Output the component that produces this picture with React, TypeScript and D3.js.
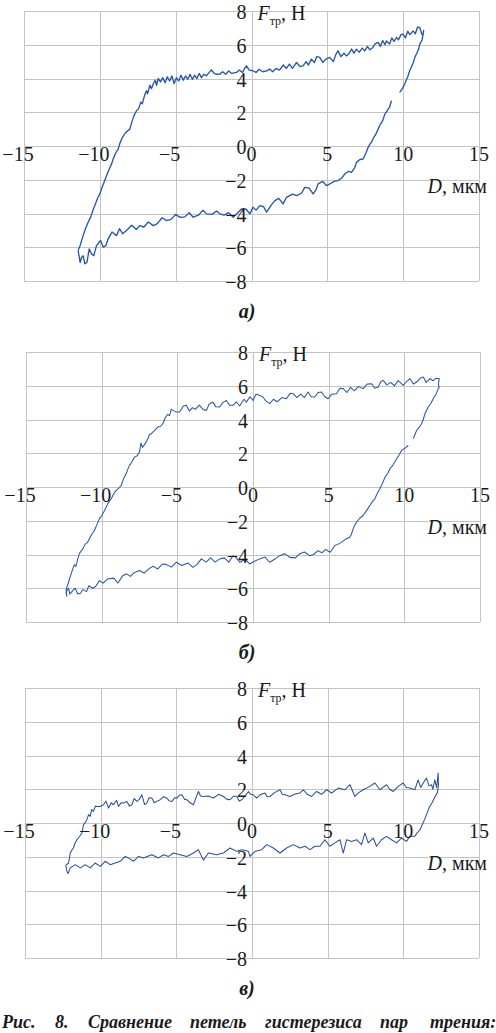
import React from 'react'
import * as d3 from 'd3'

type Pt = [number, number] | null

// D, мкм / F тр, Н — loops, path order; null = gap in the trace
const loopA: Pt[] = [
  [-11.43, -6.2], [-11.3, -5.9], [-11.1, -5.31], [-10.95, -4.9], [-10.77, -4.52], [-10.6, -4.2], [-10.45, -3.8],
  [-10.33, -3.53], [-10.15, -3.1], [-9.98, -2.8], [-9.89, -2.54], [-9.7, -2.1], [-9.56, -1.76], [-9.35, -1.3],
  [-9.2, -1.0], [-9.12, -0.77], [-8.95, -0.4], [-8.79, -0.18], [-8.7, 0.1], [-8.55, 0.45], [-8.3, 0.8], [-8.02, 1.0],
  [-7.9, 1.4], [-7.75, 1.8], [-7.58, 2.09], [-7.45, 2.2], [-7.3, 2.6], [-7.2, 2.5], [-7.05, 3.0], [-6.92, 3.27],
  [-6.85, 3.1], [-6.7, 3.6], [-6.6, 3.4], [-6.48, 3.67], [-6.35, 3.9], [-6.26, 3.6], [-6.15, 4.0], [-6.0, 3.8],
  [-5.85, 4.05], [-5.7, 3.75], [-5.55, 4.1], [-5.4, 3.85], [-5.25, 4.15], [-5.1, 3.7], [-4.95, 4.05], [-4.8, 3.85],
  [-4.65, 4.2], [-4.5, 3.9], [-4.35, 4.15], [-4.2, 3.95], [-4.05, 4.25], [-3.9, 3.95], [-3.75, 4.2], [-3.6, 4.0],
  [-3.45, 4.3], [-3.3, 4.05], [-3.15, 4.25], [-2.97, 4.16], [-2.8, 4.35], [-2.64, 4.5], [-2.45, 4.3], [-2.3, 4.25],
  [-2.09, 4.26], [-1.9, 4.4], [-1.7, 4.25], [-1.5, 4.45], [-1.3, 4.3], [-0.99, 4.36], [-0.8, 4.5], [-0.6, 4.35],
  [-0.45, 4.6], [-0.33, 4.75], [-0.15, 4.5], [0.09, 4.46], [0.3, 4.36], [0.5, 4.55], [0.75, 4.4], [1.0, 4.45],
  [1.2, 4.56], [1.4, 4.4], [1.6, 4.6], [1.85, 4.5], [2.1, 4.8], [2.3, 4.6], [2.5, 4.85], [2.7, 4.6], [2.97, 4.95],
  [3.2, 4.7], [3.4, 4.75], [3.6, 5.0], [3.75, 4.8], [3.95, 5.15], [4.15, 4.95], [4.3, 5.3], [4.5, 5.25], [4.7, 4.95],
  [4.9, 5.15], [5.16, 5.25], [5.4, 5.0], [5.55, 5.4], [5.7, 5.64], [5.9, 5.3], [6.1, 5.5], [6.26, 5.34], [6.45, 5.5],
  [6.6, 5.75], [6.75, 5.5], [6.92, 5.74], [7.1, 5.55], [7.3, 5.8], [7.47, 5.64], [7.65, 5.9], [7.8, 5.7], [8.0, 5.84],
  [8.15, 6.05], [8.35, 6.14], [8.5, 5.9], [8.65, 6.25], [8.8, 6.0], [8.9, 6.23], [9.1, 6.05], [9.25, 6.4], [9.4, 6.2],
  [9.56, 6.43], [9.7, 6.3], [9.85, 6.6], [10.0, 6.63], [10.15, 6.4], [10.3, 6.8], [10.45, 6.6], [10.65, 6.82],
  [10.8, 6.65], [10.95, 7.05], [11.1, 7.02], [11.2, 6.7], [11.3, 6.53], [11.35, 6.85], [11.25, 6.3],
  [11.1, 6.04], [11.0, 5.7], [10.9, 5.5], [10.77, 5.25], [10.65, 4.9], [10.55, 4.7], [10.43, 4.46], [10.3, 4.1],
  [10.2, 3.9], [10.1, 3.67], [9.95, 3.4], [9.77, 3.18], null,
  [9.23, 2.68], [9.1, 2.3], [8.95, 2.1], [8.79, 1.89], [8.65, 1.5], [8.5, 1.3], [8.35, 1.0], [8.2, 0.7], [8.05, 0.5],
  [7.91, 0.22], [7.8, 0.1], [7.69, -0.08], [7.55, -0.4], [7.36, -0.77], [7.15, -0.8], [6.92, -0.97], [6.8, -1.3],
  [6.59, -1.56], [6.4, -1.5], [6.15, -1.66], [5.95, -1.9], [5.7, -2.05], [5.45, -2.1], [5.16, -2.25], [4.94, -2.35],
  [4.7, -2.1], [4.39, -2.25], [4.25, -2.6], [4.06, -2.84], [3.8, -2.5], [3.51, -2.45], [3.3, -2.8], [2.97, -2.94],
  [2.7, -2.85], [2.31, -3.04], [2.08, -3.43], [1.8, -3.1], [1.54, -3.24], [1.3, -3.5], [0.99, -3.92], [0.8, -3.6],
  [0.55, -3.53], [0.3, -3.8], [0.1, -3.63], [-0.11, -4.02], [-0.35, -3.75], [-0.66, -3.73], [-0.9, -3.95],
  [-1.21, -4.22], [-1.5, -3.95], [-1.8, -4.1], [-2.09, -4.02], [-2.3, -3.85], [-2.6, -4.05], [-2.97, -4.02],
  [-3.2, -3.8], [-3.5, -4.1], [-3.85, -4.22], [-4.1, -3.95], [-4.4, -4.2], [-4.73, -4.22], [-5.0, -4.05],
  [-5.3, -4.35], [-5.6, -4.42], [-5.9, -4.25], [-6.2, -4.6], [-6.48, -4.72], [-6.8, -4.5], [-7.1, -4.8],
  [-7.36, -4.72], [-7.6, -4.95], [-7.9, -4.7], [-8.24, -5.01], [-8.5, -5.2], [-8.7, -4.9], [-8.9, -5.31],
  [-9.2, -5.1], [-9.45, -5.5], [-9.6, -5.9], [-9.78, -5.99], [-9.95, -5.6], [-10.22, -5.9], [-10.4, -6.5],
  [-10.55, -6.39], [-10.7, -6.1], [-10.85, -6.9], [-10.99, -6.98], [-11.1, -6.5], [-11.2, -6.59], [-11.3, -6.9],
  [-11.43, -6.2],
]

const loopB: Pt[] = [
  [-12.3, -6.5], [-12.35, -6.04], [-12.2, -5.7], [-12.13, -5.45], [-12.0, -5.1], [-11.91, -4.85], [-11.8, -4.6],
  [-11.7, -4.7], [-11.58, -4.26], [-11.45, -3.9], [-11.25, -3.67], [-11.1, -3.4], [-10.95, -3.3], [-10.81, -3.07],
  [-10.65, -2.8], [-10.48, -2.58], [-10.3, -2.2], [-10.15, -1.89], [-10.0, -1.7], [-9.81, -1.39], [-9.6, -1.0],
  [-9.37, -0.7], [-9.2, -0.4], [-9.04, -0.2], [-8.85, -0.05], [-8.71, 0.09], [-8.55, 0.5], [-8.38, 0.78],
  [-8.25, 1.1], [-8.16, 1.28], [-8.0, 1.5], [-7.83, 1.77], [-7.65, 1.85], [-7.5, 2.07], [-7.4, 2.6], [-7.3, 2.35],
  [-7.1, 2.6], [-6.95, 2.86], [-6.85, 3.1], [-6.72, 3.16], [-6.5, 3.35], [-6.29, 3.55], [-6.1, 3.6], [-5.96, 3.75],
  [-5.8, 4.1], [-5.65, 4.3], [-5.51, 4.24], [-5.4, 4.6], [-5.29, 4.54], [-5.1, 4.45], [-4.85, 4.44], [-4.6, 4.8],
  [-4.41, 4.84], [-4.2, 4.5], [-4.0, 4.7], [-3.8, 4.6], [-3.55, 4.85], [-3.3, 4.6], [-3.08, 4.54], [-2.9, 4.9],
  [-2.65, 5.03], [-2.45, 4.75], [-2.2, 4.74], [-2.0, 5.0], [-1.76, 5.13], [-1.55, 4.85], [-1.32, 4.84], [-1.1, 5.05],
  [-0.88, 4.8], [-0.6, 5.2], [-0.44, 5.03], [-0.2, 5.35], [0.0, 5.13], [0.2, 5.5], [0.44, 5.43], [0.66, 5.33],
  [0.85, 5.1], [1.1, 4.94], [1.35, 5.2], [1.6, 5.05], [1.9, 5.3], [2.21, 5.23], [2.45, 5.55], [2.65, 5.53],
  [2.9, 5.3], [3.15, 5.5], [3.4, 5.3], [3.64, 5.63], [3.85, 5.35], [4.08, 5.33], [4.3, 5.6], [4.52, 5.63],
  [4.75, 5.35], [4.96, 5.23], [5.2, 5.5], [5.52, 5.53], [5.75, 5.85], [5.96, 5.83], [6.2, 5.6], [6.45, 5.9],
  [6.7, 5.7], [6.95, 5.95], [7.28, 5.83], [7.55, 6.1], [7.84, 6.12], [8.05, 5.85], [8.27, 5.92], [8.45, 6.25],
  [8.6, 6.32], [8.85, 6.05], [9.1, 6.2], [9.35, 6.0], [9.6, 6.3], [9.93, 6.02], [10.15, 6.25], [10.37, 6.42],
  [10.6, 6.1], [10.81, 6.22], [11.05, 6.45], [11.25, 6.52], [11.45, 6.2], [11.69, 6.42], [11.9, 6.3], [12.1, 6.45],
  [12.31, 6.42], [12.25, 6.1], [12.3, 5.9],
  [12.24, 5.83], [12.1, 5.5], [11.91, 5.23], [11.75, 4.95], [11.58, 4.74], [11.45, 4.5], [11.36, 4.34],
  [11.25, 4.0], [11.14, 3.75], [10.95, 3.5], [10.81, 3.35], [10.59, 2.86], null,
  [10.26, 2.46], [10.05, 2.3], [9.82, 2.17], [9.65, 1.9], [9.49, 1.67], [9.25, 1.3], [9.05, 1.08], [8.9, 0.8],
  [8.72, 0.58], [8.55, 0.2], [8.38, -0.11], [8.2, -0.4], [8.05, -0.7], [7.9, -0.85], [7.72, -1.1], [7.5, -1.4],
  [7.28, -1.69], [7.05, -1.85], [6.84, -2.09], [6.7, -2.3], [6.62, -2.48], [6.5, -2.8], [6.4, -2.98], [6.1, -3.1],
  [5.85, -3.28], [5.6, -3.4], [5.41, -3.47], [5.2, -3.75], [5.08, -3.87], [4.8, -3.7], [4.55, -3.9], [4.3, -3.77],
  [4.0, -4.0], [3.75, -4.07], [3.4, -3.85], [3.09, -3.96], [2.8, -4.2], [2.43, -4.17], [2.1, -3.95], [1.77, -4.07],
  [1.4, -4.3], [1.1, -4.46], [0.8, -4.15], [0.44, -4.26], [0.1, -4.4], [-0.22, -4.56], [-0.5, -4.3], [-0.88, -4.46],
  [-1.1, -4.2], [-1.32, -4.07], [-1.6, -4.45], [-1.9, -4.2], [-2.2, -4.26], [-2.5, -4.45], [-2.8, -4.2],
  [-3.1, -4.45], [-3.41, -4.26], [-3.7, -4.6], [-3.97, -4.76], [-4.3, -4.5], [-4.7, -4.65], [-5.07, -4.46],
  [-5.4, -4.75], [-5.7, -4.6], [-5.96, -4.56], [-6.3, -4.85], [-6.6, -4.7], [-6.84, -4.82], [-7.2, -5.1],
  [-7.5, -4.95], [-7.83, -5.06], [-8.1, -5.3], [-8.35, -5.15], [-8.6, -5.25], [-8.93, -5.69], [-9.2, -5.4],
  [-9.6, -5.45], [-9.9, -5.7], [-10.15, -5.55], [-10.4, -5.9], [-10.59, -6.0], [-10.85, -5.85], [-11.0, -6.2],
  [-11.25, -6.08], [-11.4, -6.3], [-11.58, -6.34], [-11.75, -6.0], [-11.91, -6.14], [-12.1, -6.35], [-12.2, -6.0],
  [-12.35, -6.24], [-12.3, -6.5],
]

const loopC: Pt[] = [
  [-12.23, -2.86], [-12.3, -2.5], [-12.12, -2.37], [-12.05, -2.0], [-12.01, -1.78], [-11.9, -1.6], [-11.8, -1.48],
  [-11.7, -1.2], [-11.57, -0.99], [-11.4, -0.8], [-11.24, -0.59], [-11.13, -0.1], [-11.0, 0.05], [-10.91, 0.2],
  [-10.8, 0.5], [-10.69, 0.39], [-10.6, 0.8], [-10.48, 0.69], [-10.35, 1.0], [-10.25, 0.98], [-10.03, 0.98],
  [-9.81, 1.08], [-9.65, 1.3], [-9.48, 0.89], [-9.3, 1.2], [-9.15, 1.08], [-8.95, 1.35], [-8.82, 0.98],
  [-8.65, 1.2], [-8.49, 1.18], [-8.27, 1.28], [-8.1, 1.0], [-7.94, 1.08], [-7.78, 1.45], [-7.61, 1.28],
  [-7.45, 1.4], [-7.28, 1.67], [-7.1, 1.1], [-6.95, 1.18], [-6.8, 1.5], [-6.62, 1.48], [-6.45, 1.2], [-6.29, 1.28],
  [-6.07, 1.38], [-5.85, 1.55], [-5.63, 1.48], [-5.45, 1.3], [-5.3, 1.28], [-5.1, 1.5], [-4.97, 1.48],
  [-4.8, 1.65], [-4.64, 1.67], [-4.45, 1.4], [-4.31, 1.38], [-4.1, 1.2], [-3.87, 1.08], [-3.7, 1.5], [-3.54, 1.87],
  [-3.4, 1.6], [-3.21, 1.57], [-2.9, 1.6], [-2.55, 1.48], [-2.2, 1.7], [-1.89, 1.57], [-1.65, 1.4], [-1.45, 1.38],
  [-1.2, 1.6], [-1.01, 1.57], [-0.85, 1.3], [-0.68, 1.38], [-0.45, 1.6], [-0.24, 1.87], [-0.1, 1.7], [0.09, 1.67],
  [0.31, 1.48], [0.53, 1.67], [0.86, 1.78], [1.0, 1.55], [1.19, 1.57], [1.5, 1.8], [1.85, 1.97], [2.0, 1.7],
  [2.18, 1.67], [2.51, 1.57], [2.8, 1.7], [3.17, 1.78], [3.39, 1.97], [3.65, 1.7], [3.94, 1.57], [4.27, 1.87],
  [4.6, 1.7], [4.93, 1.97], [5.26, 1.78], [5.7, 2.07], [6.14, 1.97], [6.47, 2.27], [6.8, 1.57], [7.05, 1.8],
  [7.35, 1.97], [7.79, 2.17], [8.12, 2.37], [8.45, 1.97], [8.89, 2.27], [9.1, 2.0], [9.33, 1.87], [9.66, 2.17],
  [9.99, 2.37], [10.2, 2.1], [10.43, 2.07], [10.76, 1.97], [10.98, 2.56], [11.15, 2.1], [11.31, 2.37],
  [11.53, 2.66], [11.7, 2.2], [11.86, 2.27], [11.95, 2.0], [12.08, 2.56], [12.2, 2.1], [12.3, 2.96], [12.32, 2.2],
  [12.25, 1.8], [12.1, 1.57], [11.9, 1.2], [11.7, 0.9], [11.53, 0.5], [11.4, 0.2], [11.25, -0.1], [11.1, -0.4],
  [10.9, -0.6], [10.76, -0.79], [10.43, -0.79], [10.21, -1.09], [9.88, -0.89], [9.55, -1.18], [9.22, -0.99],
  [8.89, -0.79], [8.56, -0.99], [8.23, -1.38], [8.01, -0.89], [7.68, -1.18], [7.46, -0.59], [7.24, -1.28],
  [6.91, -0.99], [6.58, -1.09], [6.25, -0.99], [6.03, -1.78], [5.81, -0.99], [5.48, -1.18], [5.15, -1.38],
  [4.82, -0.99], [4.49, -1.38], [4.16, -1.38], [3.83, -1.58], [3.5, -1.38], [3.17, -1.48], [2.73, -1.28],
  [2.29, -1.48], [1.85, -1.78], [1.41, -1.48], [0.97, -1.28], [0.64, -1.58], [0.2, -1.68], [-0.13, -1.98],
  [-0.24, -1.68], [-0.68, -1.58], [-1.01, -1.68], [-1.45, -1.48], [-1.89, -1.78], [-2.33, -1.88], [-2.88, -1.78],
  [-3.21, -2.2], [-3.54, -1.58], [-3.87, -1.78], [-4.31, -1.98], [-4.75, -1.88], [-5.19, -1.78], [-5.52, -1.98],
  [-5.85, -1.88], [-6.18, -2.07], [-6.62, -1.88], [-7.17, -2.07], [-7.5, -1.98], [-7.83, -2.27], [-8.16, -2.07],
  [-8.38, -1.98], [-8.71, -2.27], [-9.04, -2.37], [-9.37, -2.47], [-9.7, -2.27], [-10.03, -2.57], [-10.36, -2.37],
  [-10.69, -2.66], [-11.02, -2.47], [-11.35, -2.66], [-11.68, -2.47], [-12.01, -2.66], [-12.15, -3.0],
  [-12.23, -2.86],
]

const xTicks = [-15, -10, -5, 0, 5, 10, 15]
const yTicks = [-8, -6, -4, -2, 0, 2, 4, 6, 8]
const panelLabels = ['а)', 'б)', 'в)']
const figureWords = ['Рис.', '8.', 'Сравнение', 'петель', 'гистерезиса', 'пар', 'трения:']

const W = 496
const H = 1033
const serif = "'Liberation Serif', 'Times New Roman', 'DejaVu Serif', serif"
const gridColor = '#c4c4c4'
const ink = '#1a1a1a'
const fmt = (v: number) => (v < 0 ? '\u2212' + Math.abs(v) : String(v))

function Panel({ data, top, left, right, label, lineWidth, color }: {
  data: Pt[], top: number, left: number, right: number, label: string, lineWidth: number, color: string
}) {
  const bottom = top + 270
  const x = d3.scaleLinear().domain([-15, 15]).range([left, right])
  const y = d3.scaleLinear().domain([-8, 8]).range([bottom, top])
  const line = d3.line<Pt>()
    .defined(d => d !== null)
    .x(d => x(d![0]))
    .y(d => y(d![1]))
  const x0 = x(0)
  const y0 = y(0)
  const snap = (v: number) => Math.round(v) + 0.5
  const txt = { fontFamily: serif, fontSize: 20, fill: ink }

  return (
    <g>
      {xTicks.map(t => (
        <line key={'gx' + t} x1={snap(x(t))} x2={snap(x(t))} y1={top} y2={bottom}
          stroke={gridColor} strokeWidth={1} />
      ))}
      {yTicks.map(t => (
        <line key={'gy' + t} x1={left} x2={right} y1={snap(y(t))} y2={snap(y(t))}
          stroke={gridColor} strokeWidth={1} />
      ))}
      <path d={line(data) || ''} fill="none" stroke={color} strokeWidth={lineWidth}
        strokeLinejoin="round" />
      {xTicks.map(t => (
        <text key={'tx' + t} x={x(t) + (t < 0 ? -6 : 0)} y={y0 + 15} textAnchor="middle"
          style={txt}>{fmt(t)}</text>
      ))}
      {yTicks.map(t => (
        <text key={'ty' + t} x={x0 - 5} y={y(t) + 8} textAnchor="end" style={txt}>{fmt(t)}</text>
      ))}
      <text x={x0 + 6} y={top + 9} style={txt}>
        <tspan style={{ fontStyle: 'italic' }}>F</tspan>
        <tspan style={{ fontSize: 12 }} dy={5}>тр</tspan>
        <tspan dy={-5}>, Н</tspan>
      </text>
      <text x={487} y={y0 + 47} textAnchor="end" style={txt}>
        <tspan style={{ fontStyle: 'italic' }}>D</tspan>, мкм
      </text>
      <text x={247} y={bottom + 37} textAnchor="middle"
        style={{ ...txt, fontWeight: 'bold', fontStyle: 'italic' }}>{label}</text>
    </g>
  )
}

export default function App() {
  const wordX = [2, 55, 88, 190, 265, 380, 430]
  return (
    <svg width={W} height={H} style={{ position: 'absolute', left: 0, top: 0, background: '#fff' }}>
      <rect width={W} height={H} fill="#fff" />
      <Panel data={loopA} top={11} left={24} right={479} label={panelLabels[0]} lineWidth={1.35} color="#2357ad" />
      <Panel data={loopB} top={352} left={26} right={480} label={panelLabels[1]} lineWidth={1.05} color="#2a55a8" />
      <Panel data={loopC} top={688} left={25} right={479} label={panelLabels[2]} lineWidth={1.05} color="#2a4f9e" />
      {figureWords.map((w, i) => (
        <text key={w} x={wordX[i]} y={1028}
          style={{ fontFamily: serif, fontSize: 18, fontWeight: 'bold', fontStyle: 'italic', fill: ink }}>{w}</text>
      ))}
    </svg>
  )
}
